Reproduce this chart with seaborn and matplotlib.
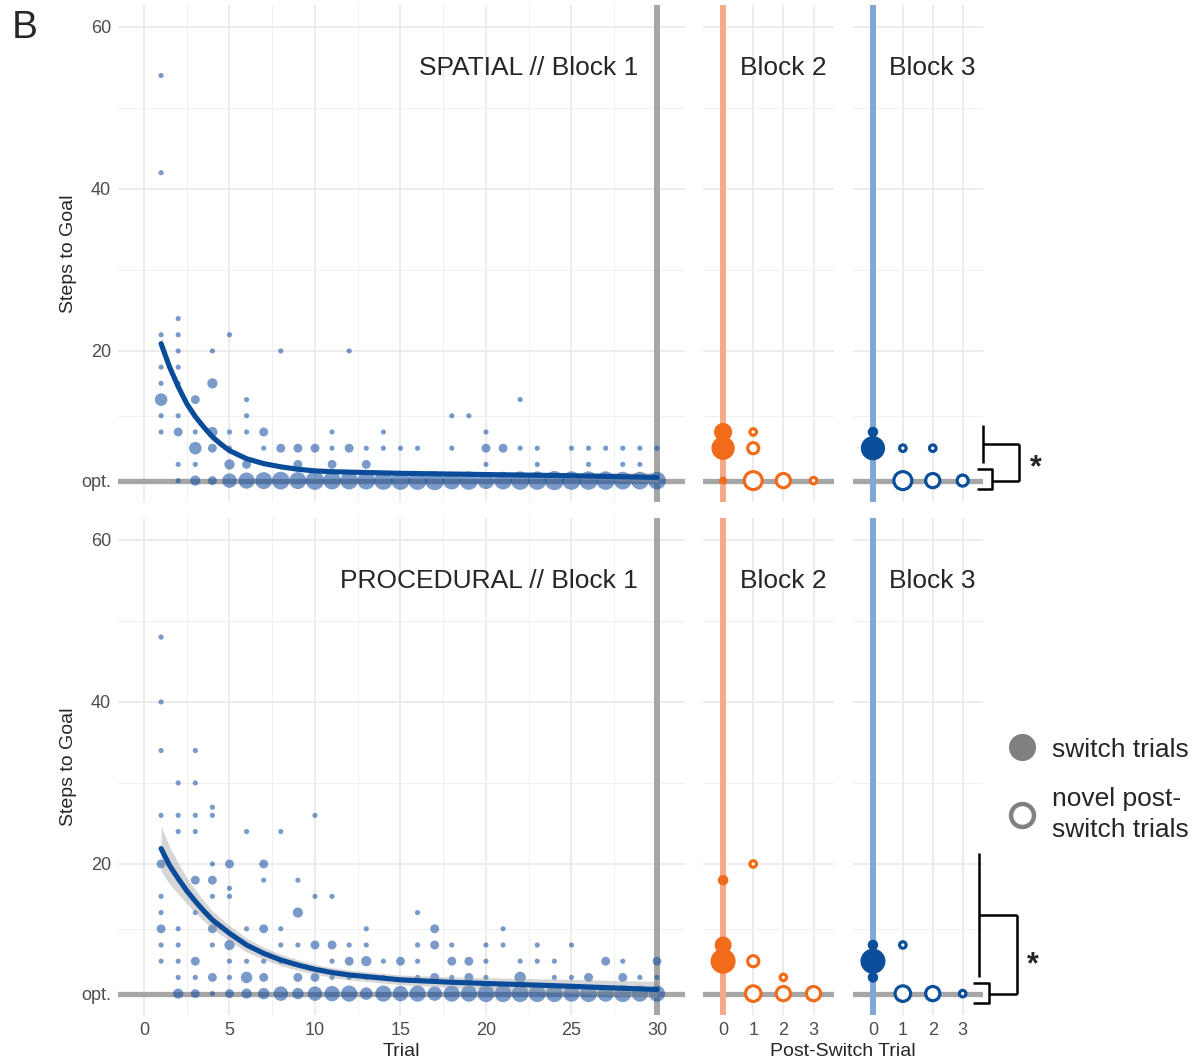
import numpy as np
import pandas as pd
import matplotlib
matplotlib.use("Agg")
import matplotlib.pyplot as plt
from matplotlib.lines import Line2D
import seaborn as sns

# ---------------------------------------------------------------- data
OPT = 4
ytick_vals = [OPT, 20, 40, 60]
ytick_labels = ["opt.", "20", "40", "60"]
ytick_minor = [12, 30, 50]
trial_ticks = [0, 5, 10, 15, 20, 25, 30]
trial_minor = [2.5, 7.5, 12.5, 17.5, 22.5, 27.5]
post_ticks = [0, 1, 2, 3]

# Block 1 raw points: one inner list per trial (trial 1 .. 30)
sp_steps = [[54, 42, 22, 18, 16, 14, 12, 10], [24, 22, 20, 18, 16, 12, 10, 6, 4],
            [14, 10, 8, 6, 4], [20, 16, 10, 8, 4], [22, 10, 8, 6, 4], [14, 12, 10, 6, 4],
            [10, 8, 4], [20, 8, 4], [8, 6, 4], [8, 4], [10, 8, 6, 4], [20, 8, 4],
            [8, 6, 4], [10, 8, 4], [8, 4], [8, 4], [4], [12, 8, 4], [12, 4], [10, 8, 6, 4],
            [8, 4], [14, 8, 4], [8, 6, 4], [4], [8, 4], [8, 6, 4], [8, 4], [8, 6, 4],
            [8, 6, 4], [8, 4]]
sp_count = [[1, 1, 1, 1, 1, 6, 1, 1], [1, 1, 1, 1, 1, 1, 3, 1, 1],
            [3, 1, 6, 1, 4], [1, 4, 4, 3, 3], [1, 1, 1, 4, 8], [1, 1, 1, 3, 10],
            [3, 1, 11], [1, 3, 12], [3, 3, 11], [3, 13], [1, 1, 3, 12], [1, 3, 12],
            [1, 3, 12], [1, 1, 13], [1, 13], [1, 13], [14], [1, 1, 12], [1, 13], [1, 3, 1, 11],
            [3, 12], [1, 1, 13], [1, 1, 13], [14], [1, 13], [1, 1, 13], [1, 13], [1, 1, 12],
            [1, 1, 12], [1, 12]]

pr_steps = [[48, 40, 34, 26, 20, 16, 14, 12, 10, 8], [30, 26, 24, 12, 10, 8, 6, 4],
            [34, 30, 26, 24, 18, 14, 8, 6, 4], [27, 26, 20, 18, 16, 12, 10, 6, 4],
            [20, 17, 16, 10, 8, 6, 4], [24, 12, 8, 6, 4], [20, 18, 12, 8, 6, 4],
            [24, 12, 10, 8, 4], [18, 14, 10, 6, 4], [26, 16, 10, 6, 4], [16, 10, 8, 6, 4],
            [10, 8, 6, 4], [12, 10, 8, 6, 4], [8, 6, 4], [8, 4], [14, 10, 8, 6, 4],
            [12, 10, 6, 4], [10, 8, 6, 4], [8, 6, 4], [10, 8, 6, 4], [12, 10, 4], [8, 6, 4],
            [10, 8, 4], [8, 6, 4], [10, 6, 4], [6, 4], [8, 4], [8, 6, 4], [6, 4], [8, 6, 4]]
pr_count = [[1, 1, 1, 1, 3, 1, 1, 3, 1, 1], [1, 1, 1, 1, 1, 1, 1, 4],
            [1, 1, 1, 1, 3, 1, 3, 1, 3], [1, 1, 1, 3, 1, 3, 1, 3, 1],
            [3, 1, 1, 4, 1, 1, 3], [1, 1, 1, 5, 4], [3, 1, 3, 1, 3, 5],
            [1, 1, 1, 1, 8], [1, 4, 1, 3, 5], [1, 1, 3, 3, 8], [1, 3, 1, 1, 9],
            [1, 3, 1, 10], [1, 1, 4, 1, 6], [1, 1, 10], [3, 9], [1, 1, 1, 1, 10],
            [3, 3, 3, 8], [1, 3, 1, 10], [3, 3, 10], [1, 1, 1, 11], [1, 1, 11], [1, 5, 11],
            [1, 1, 11], [1, 1, 11], [1, 1, 10], [3, 11], [3, 10], [1, 3, 11], [1, 10], [3, 1, 10]]

# fitted learning curves with confidence band
sp_fit_trial = [1, 1.5, 2, 2.5, 3, 3.5, 4, 4.5, 5, 6, 7, 8, 9, 10, 11, 13, 15, 20, 25, 30]
sp_fit = [20.9, 18.0, 15.6, 13.5, 11.9, 10.6, 9.4, 8.5, 7.7, 6.7, 6.1, 5.7, 5.4, 5.2, 5.1,
          5.0, 4.9, 4.75, 4.6, 4.4]
sp_fit_lo = [20.0, 17.3, 15.0, 13.0, 11.5, 10.25, 9.1, 8.2, 7.45, 6.5, 5.9, 5.5, 5.2, 5.0,
             4.9, 4.8, 4.7, 4.5, 4.25, 3.8]
sp_fit_hi = [21.8, 18.7, 16.2, 14.0, 12.3, 10.95, 9.7, 8.8, 7.95, 6.9, 6.3, 5.9, 5.6, 5.4,
             5.3, 5.2, 5.1, 5.0, 4.95, 5.0]

pr_fit_trial = [1, 1.5, 2, 2.5, 3, 3.5, 4, 5, 6, 7, 8, 9, 10, 11, 12, 13, 14, 15, 18, 20,
                23, 25, 30]
pr_fit = [21.9, 19.8, 18.2, 16.7, 15.4, 14.2, 13.1, 11.45, 10.0, 8.97, 8.15, 7.53, 7.0, 6.6,
          6.3, 6.1, 5.9, 5.7, 5.4, 5.25, 5.05, 4.9, 4.5]
pr_fit_lo = [19.1, 17.5, 16.3, 15.1, 14.0, 12.95, 12.0, 10.5, 9.15, 8.22, 7.45, 6.88, 6.4,
             6.0, 5.7, 5.5, 5.3, 5.1, 4.75, 4.55, 4.25, 4.05, 3.5]
pr_fit_hi = [24.7, 22.1, 20.1, 18.3, 16.8, 15.45, 14.2, 12.4, 10.85, 9.72, 8.85, 8.18, 7.6,
             7.2, 6.9, 6.7, 6.5, 6.3, 6.05, 5.95, 5.85, 5.75, 5.5]

# Blocks 2 and 3: post-switch trials
sp_b2_post = [0, 0, 0, 1, 1, 1, 2, 3]
sp_b2_steps = [10, 8, 4, 10, 8, 4, 4, 4]
sp_b2_count = [7, 12, 1, 1, 3, 8, 5, 1]
sp_b2_kind = ["switch", "switch", "switch", "novel", "novel", "novel", "novel", "novel"]

sp_b3_post = [0, 0, 1, 1, 2, 2, 3]
sp_b3_steps = [10, 8, 8, 4, 8, 4, 4]
sp_b3_count = [2, 13, 1, 8, 1, 5, 3]
sp_b3_kind = ["switch", "switch", "novel", "novel", "novel", "novel", "novel"]

pr_b2_post = [0, 0, 0, 1, 1, 1, 2, 2, 3]
pr_b2_steps = [18, 10, 8, 20, 8, 4, 6, 4, 4]
pr_b2_count = [2, 6, 14, 1, 3, 6, 1, 5, 5]
pr_b2_kind = ["switch", "switch", "switch", "novel", "novel", "novel", "novel", "novel", "novel"]

pr_b3_post = [0, 0, 0, 1, 1, 2, 3]
pr_b3_steps = [10, 8, 6, 10, 4, 4, 4]
pr_b3_count = [2, 14, 2, 1, 6, 5, 1]
pr_b3_kind = ["switch", "switch", "switch", "novel", "novel", "novel", "novel"]

# ---------------------------------------------------------------- style
sns.set_style("white")
plt.rcParams["font.family"] = ["Liberation Sans", "DejaVu Sans"]

GRAY = "#A6A6A6"
PT_BLUE = "#0D4A9E"
CURVE = "#0B4C9A"
ORANGE = "#F26B1A"
BLUE = "#0B4F9C"
ORANGE_L = "#F5AB8A"
BLUE_L = "#80A8D5"
TICK_C = "#4D4D4D"
YLIM = (1.36, 62.7)

fig = plt.figure(figsize=(11.98, 10.62), dpi=100)
W, H = 1198.0, 1062.0


def rect(x0, x1, y0, y1):
    return [x0 / W, 1 - y1 / H, (x1 - x0) / W, (y1 - y0) / H]


def base_style(ax, xlim, xticks, xminor, show_x, show_y):
    ax.set_xlim(*xlim)
    ax.set_ylim(*YLIM)
    ax.set_xticks(xticks)
    ax.set_xticks(xminor, minor=True)
    ax.set_yticks(ytick_vals)
    ax.set_yticklabels(ytick_labels if show_y else [])
    ax.set_yticks(ytick_minor, minor=True)
    if not show_x:
        ax.set_xticklabels([])
    ax.grid(which="major", color="#EBEBEB", lw=1.3)
    ax.grid(which="minor", color="#F0F0F0", lw=0.8)
    ax.set_axisbelow(True)
    for s in ax.spines.values():
        s.set_visible(False)
    ax.tick_params(which="both", length=0, labelsize=13, colors=TICK_C, pad=5)
    ax.set_xlabel("")
    ax.set_ylabel("")


def block1(ax, steps, counts, ft, fy, flo, fhi, title, show_x):
    df = pd.DataFrame({
        "trial": [i + 1 for i, lst in enumerate(steps) for _ in lst],
        "steps": [s for lst in steps for s in lst],
        "n": [n for lst in counts for n in lst],
    })
    ax.axhline(OPT, color=GRAY, lw=3.8, zorder=1.2)
    ax.axvline(30, color=GRAY, lw=4.3, zorder=1.2)
    sns.scatterplot(data=df, x="trial", y="steps", size="n", sizes=(14, 190),
                    size_norm=(1, 14), color=PT_BLUE, alpha=0.55, linewidth=0,
                    legend=False, ax=ax, zorder=2)
    ax.fill_between(ft, flo, fhi, color="#999999", alpha=0.4, lw=0, zorder=2.5)
    sns.lineplot(x=ft, y=fy, color=CURVE, lw=3.7, ax=ax, zorder=3)
    base_style(ax, (-1.52, 31.64), trial_ticks, trial_minor, show_x, True)
    ax.text(0.917, 0.874, title, transform=ax.transAxes, ha="right", va="center",
            fontsize=19)
    ax.set_ylabel("Steps to Goal", fontsize=14)
    ax.yaxis.set_label_coords(-0.073, 0.5)


def post_panel(ax, post, steps, counts, kind, color, vcolor, title, show_x):
    df = pd.DataFrame({"post": post, "steps": steps, "n": counts, "kind": kind})
    ax.axhline(OPT, color=GRAY, lw=3.8, zorder=1.2)
    ax.axvline(0, color=vcolor, lw=4.3, zorder=1.3)
    sw = df[df["kind"] == "switch"]
    nv = df[df["kind"] == "novel"]
    sns.scatterplot(data=sw, x="post", y="steps", size="n", sizes=(22, 290),
                    size_norm=(1, 14), color=color, edgecolor=color, linewidth=1.0,
                    legend=False, ax=ax, zorder=3)
    sns.scatterplot(data=nv, x="post", y="steps", size="n", sizes=(22, 290),
                    size_norm=(1, 14), facecolor="white", edgecolor=color,
                    linewidth=2.3, legend=False, ax=ax, zorder=3)
    base_style(ax, (-0.667, 3.68), post_ticks, [], show_x, False)
    ax.grid(which="minor", axis="x", visible=False)
    ax.text(0.28, 0.874, title, transform=ax.transAxes, ha="left", va="center",
            fontsize=19)


def bracket(ax, xa, ya0, ya1, xb0, xb1, yb0, yb1, xr, star_y):
    kw = dict(color="black", lw=1.8, clip_on=False, solid_capstyle="butt")
    ym_a = (ya0 + ya1) / 2
    ym_b = OPT
    ax.plot([xa, xa], [ya0, ya1], **kw)
    ax.plot([xa, xr], [ym_a, ym_a], **kw)
    ax.plot([xr, xr], [ym_a, ym_b], **kw)
    ax.plot([xb0, xb1, xb1, xb0], [yb1, yb1, yb0, yb0], **kw)
    ax.plot([xb1, xr], [ym_b, ym_b], **kw)
    ax.text(xr + 0.53, star_y, "*", fontsize=22, fontweight="bold", ha="center",
            va="center", clip_on=False)


# top row (SPATIAL)
ax1 = fig.add_axes(rect(118, 685, 5, 502))
ax2 = fig.add_axes(rect(703, 834, 5, 502))
ax3 = fig.add_axes(rect(853, 983, 5, 502))
# bottom row (PROCEDURAL)
ax4 = fig.add_axes(rect(118, 685, 518, 1015))
ax5 = fig.add_axes(rect(703, 834, 518, 1015))
ax6 = fig.add_axes(rect(853, 983, 518, 1015))

block1(ax1, sp_steps, sp_count, sp_fit_trial, sp_fit, sp_fit_lo, sp_fit_hi,
       "SPATIAL // Block 1", False)
block1(ax4, pr_steps, pr_count, pr_fit_trial, pr_fit, pr_fit_lo, pr_fit_hi,
       "PROCEDURAL // Block 1", True)
post_panel(ax2, sp_b2_post, sp_b2_steps, sp_b2_count, sp_b2_kind, ORANGE, ORANGE_L,
           "Block 2", False)
post_panel(ax3, sp_b3_post, sp_b3_steps, sp_b3_count, sp_b3_kind, BLUE, BLUE_L,
           "Block 3", False)
post_panel(ax5, pr_b2_post, pr_b2_steps, pr_b2_count, pr_b2_kind, ORANGE, ORANGE_L,
           "Block 2", True)
post_panel(ax6, pr_b3_post, pr_b3_steps, pr_b3_count, pr_b3_kind, BLUE, BLUE_L,
           "Block 3", True)

ax4.set_xlabel("Trial", fontsize=14, labelpad=3)
fig.text(843 / W, 1 - 1052 / H, "Post-Switch Trial", ha="center", va="center",
         fontsize=14)

# significance brackets
bracket(ax3, 3.67, 10.9, 6.2, 3.47, 3.97, 2.95, 5.4, 4.9, 5.5)
bracket(ax6, 3.53, 21.4, 6.1, 3.33, 3.87, 2.85, 5.3, 4.83, 7.5)

# panel letter
fig.text(12 / W, 1 - 28 / H, "B", ha="left", va="center", fontsize=28)

# legend
handles = [
    Line2D([], [], ls="", marker="o", markersize=18.5, markerfacecolor="#808080",
           markeredgecolor="#808080"),
    Line2D([], [], ls="", marker="o", markersize=16.5, markerfacecolor="white",
           markeredgecolor="#808080", markeredgewidth=3.2),
]
leg = fig.legend(handles, ["switch trials", "novel post-\nswitch trials"],
                 loc="center left", bbox_to_anchor=(1006 / W, 1 - 790 / H), frameon=False,
                 fontsize=19, handlelength=1.2, handletextpad=0.55, labelspacing=0.95,
                 borderpad=0, borderaxespad=0)
for t in leg.get_texts():
    t.set_linespacing(1.4)

fig.savefig("out.png", dpi=100)
